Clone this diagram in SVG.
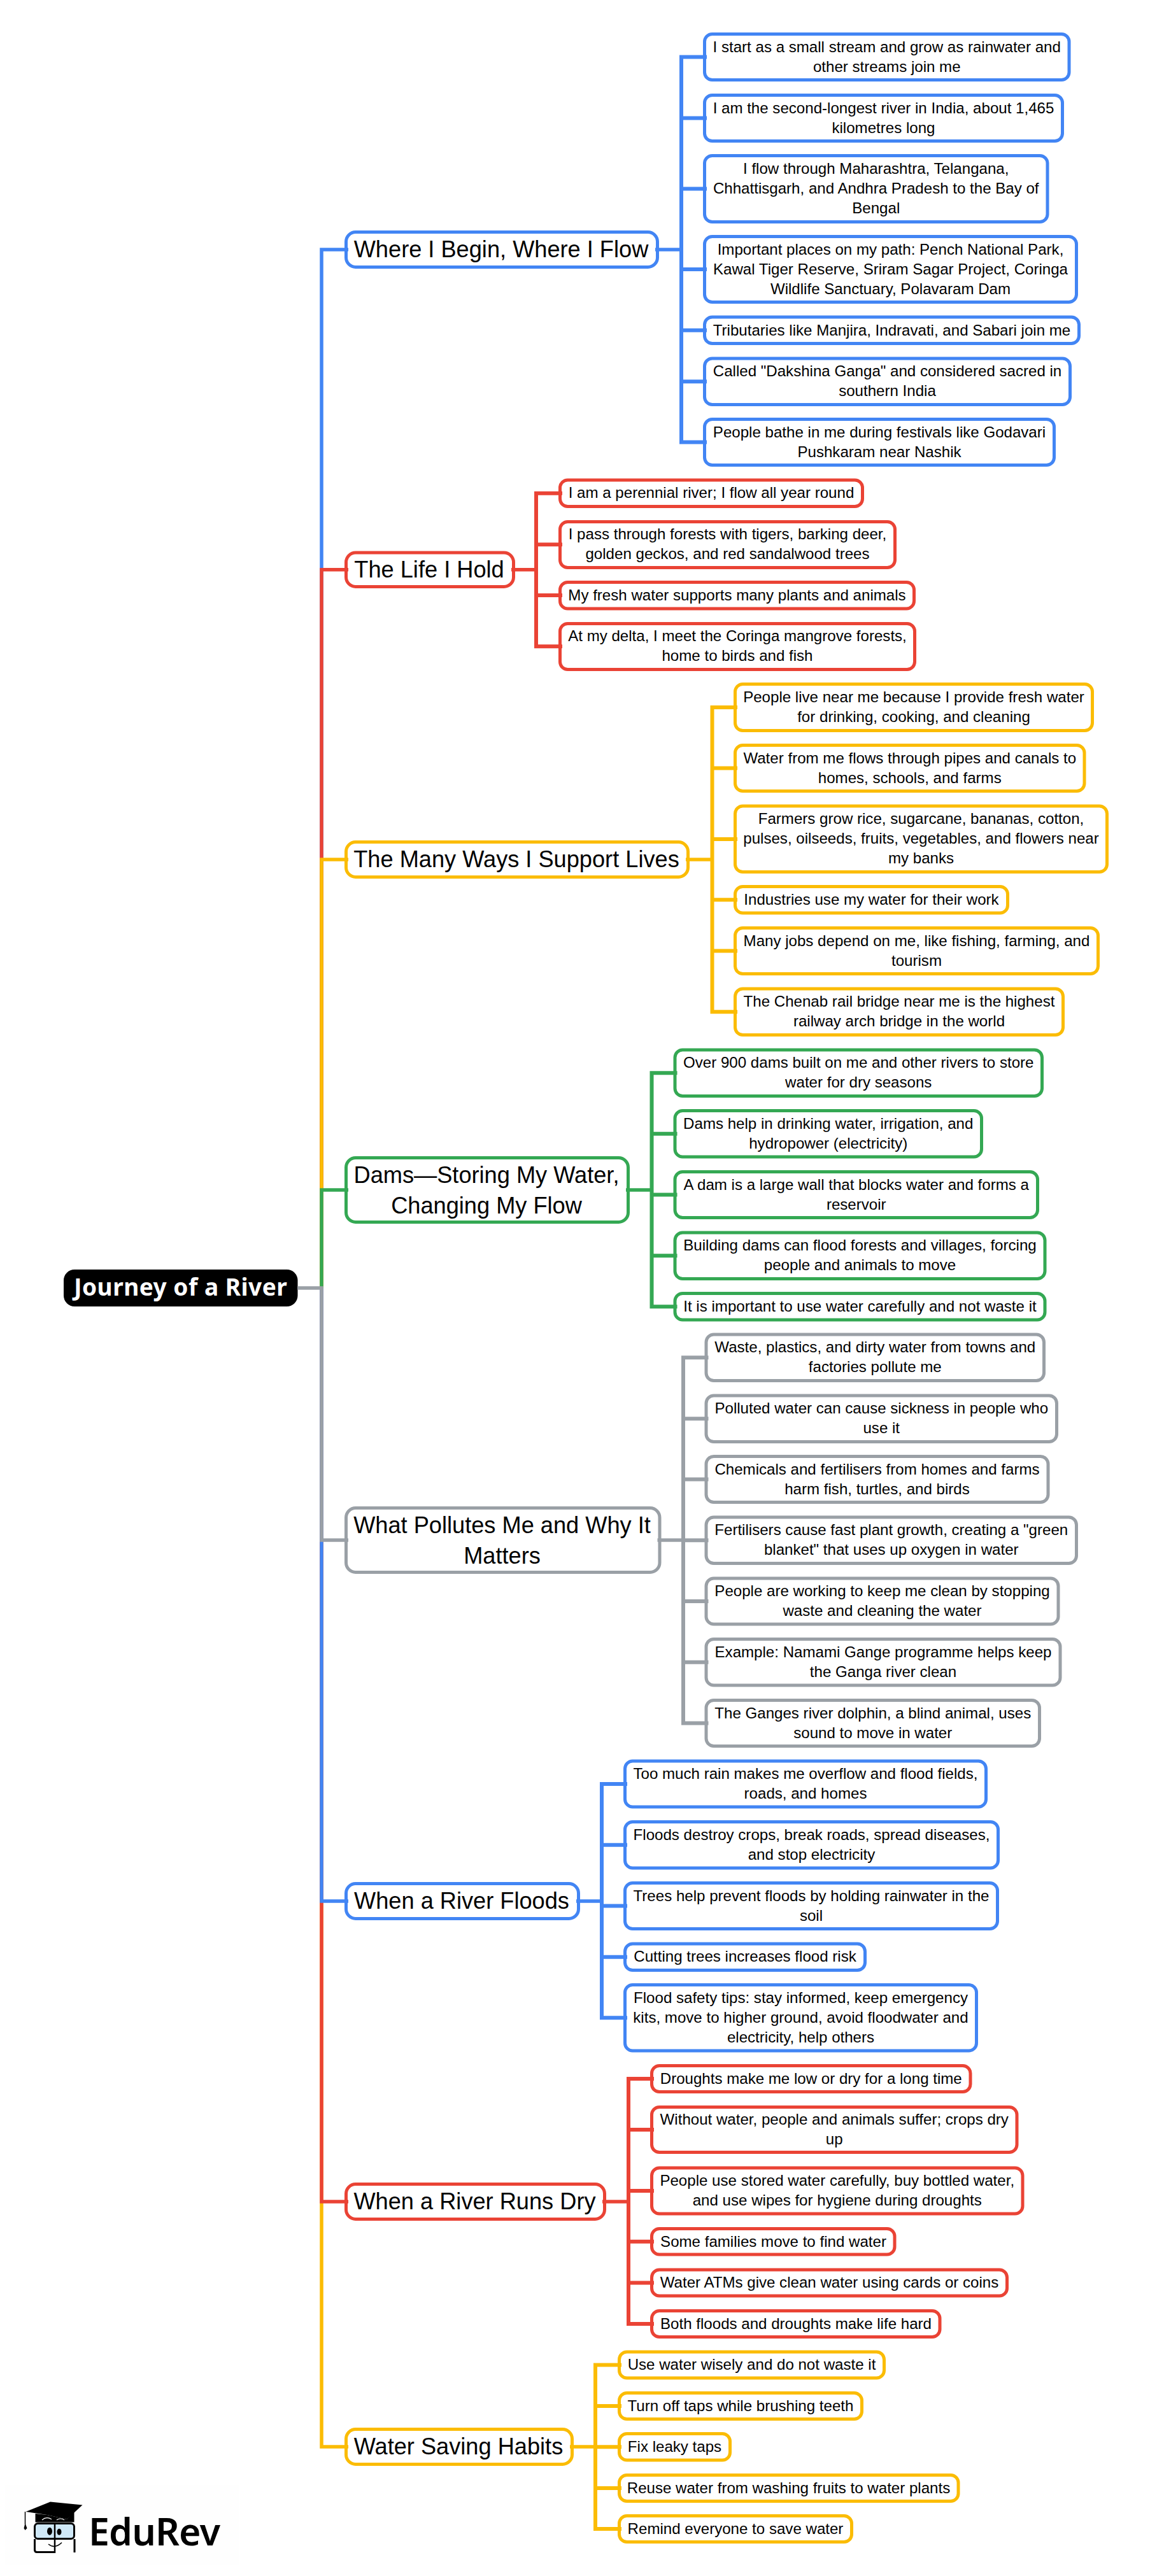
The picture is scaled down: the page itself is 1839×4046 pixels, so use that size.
<svg xmlns="http://www.w3.org/2000/svg" width="1839" height="4046" viewBox="0 0 1839 4046">
<style>
text{font-family:"Liberation Sans",Arial,sans-serif;fill:#000;text-anchor:middle}
.n text{font-size:36.2px}
.l text{font-size:24.1px}
rect{fill:#fff;stroke-width:5}
.n rect{rx:15px;ry:15px}
.l rect{rx:12px;ry:12px}
.blue rect{stroke:#4285F4}.red rect{stroke:#EA4335}.yel rect{stroke:#FBBC04}.grn rect{stroke:#34A853}.gry rect{stroke:#9AA0A6}
#connectors path{fill:none}
.cb{stroke:#4285F4}.cr{stroke:#EA4335}.cy{stroke:#FBBC04}.cg{stroke:#34A853}.ca{stroke:#9AA0A6}
.t{stroke-width:5.5}.b{stroke-width:6}
</style>
<rect width="1839" height="4046" style="fill:#fff;stroke:none"/>

<g id="root"><rect x="100" y="1994" width="367.5" height="58" rx="17" ry="17" style="fill:#000;stroke:none"/><text x="283.75" y="2035" style="font-family:'Noto Sans','Liberation Sans',sans-serif;font-size:37px;font-weight:700;letter-spacing:.5px;fill:#fff">Journey of a River</text></g>

<g id="n1" class="n blue"><rect x="543.5" y="364.5" width="489" height="55"/><text x="787" y="404">Where I Begin, Where I Flow</text></g>
<g id="n2" class="n red"><rect x="543.5" y="868" width="263" height="53.5"/><text x="674" y="906.5">The Life I Hold</text></g>
<g id="n3" class="n yel"><rect x="543.5" y="1322.5" width="537" height="55"/><text x="811" y="1362">The Many Ways I Support Lives</text></g>
<g id="n4" class="n grn"><rect x="543.5" y="1818.5" width="443" height="101"/><text x="764" y="1858">Dams—Storing My Water,</text><text x="764" y="1905.5">Changing My Flow</text></g>
<g id="n5" class="n gry"><rect x="543.5" y="2368.5" width="492.5" height="101"/><text x="788.5" y="2408">What Pollutes Me and Why It</text><text x="788.5" y="2455.5">Matters</text></g>
<g id="n6" class="n blue"><rect x="543.5" y="2958.5" width="365" height="55"/><text x="725" y="2998">When a River Floods</text></g>
<g id="n7" class="n red"><rect x="543.5" y="3430.5" width="406" height="55"/><text x="745.5" y="3470">When a River Runs Dry</text></g>
<g id="n8" class="n yel"><rect x="543.5" y="3815.5" width="355" height="55"/><text x="720" y="3855">Water Saving Habits</text></g>

<g id="n1-leaves" class="l blue">
<g id="n1a"><rect x="1106.5" y="53.5" width="572.5" height="72"/><text x="1392.75" y="81.5">I start as a small stream and grow as rainwater and</text><text x="1392.75" y="112.5">other streams join me</text></g>
<g id="n1b"><rect x="1106.5" y="149.5" width="562" height="72"/><text x="1387.5" y="177.5">I am the second-longest river in India, about 1,465</text><text x="1387.5" y="208.5">kilometres long</text></g>
<g id="n1c"><rect x="1106.5" y="244.5" width="538.5" height="104"/><text x="1375.75" y="273">I flow through Maharashtra, Telangana,</text><text x="1375.75" y="304">Chhattisgarh, and Andhra Pradesh to the Bay of</text><text x="1375.75" y="335">Bengal</text></g>
<g id="n1d"><rect x="1106.5" y="371.5" width="584" height="103"/><text x="1398.5" y="399.5">Important places on my path: Pench National Park,</text><text x="1398.5" y="430.5">Kawal Tiger Reserve, Sriram Sagar Project, Coringa</text><text x="1398.5" y="461.5">Wildlife Sanctuary, Polavaram Dam</text></g>
<g id="n1e"><rect x="1106.5" y="498" width="588" height="41.5"/><text x="1400.5" y="526.5">Tributaries like Manjira, Indravati, and Sabari join me</text></g>
<g id="n1f"><rect x="1106.5" y="563" width="574" height="72.5"/><text x="1393.5" y="591.25">Called "Dakshina Ganga" and considered sacred in</text><text x="1393.5" y="622.25">southern India</text></g>
<g id="n1g"><rect x="1106.5" y="658.5" width="549" height="72"/><text x="1381" y="686.5">People bathe in me during festivals like Godavari</text><text x="1381" y="717.5">Pushkaram near Nashik</text></g>
</g>

<g id="n2-leaves" class="l red">
<g id="n2a"><rect x="879.5" y="754" width="475" height="41.5"/><text x="1117" y="782.25">I am a perennial river; I flow all year round</text></g>
<g id="n2b"><rect x="879.5" y="819.5" width="526" height="72"/><text x="1142.5" y="847.25">I pass through forests with tigers, barking deer,</text><text x="1142.5" y="878.25">golden geckos, and red sandalwood trees</text></g>
<g id="n2c"><rect x="879.5" y="914.5" width="556" height="41.5"/><text x="1157.5" y="942.75">My fresh water supports many plants and animals</text></g>
<g id="n2d"><rect x="879.5" y="979.5" width="557" height="72"/><text x="1158" y="1007.25">At my delta, I meet the Coringa mangrove forests,</text><text x="1158" y="1038.25">home to birds and fish</text></g>
</g>

<g id="n3-leaves" class="l yel">
<g id="n3a"><rect x="1154.5" y="1074.5" width="561" height="73"/><text x="1435" y="1103">People live near me because I provide fresh water</text><text x="1435" y="1134">for drinking, cooking, and cleaning</text></g>
<g id="n3b"><rect x="1154.5" y="1170.5" width="548.5" height="72"/><text x="1428.75" y="1198.5">Water from me flows through pipes and canals to</text><text x="1428.75" y="1229.5">homes, schools, and farms</text></g>
<g id="n3c"><rect x="1154.5" y="1266" width="584" height="103.5"/><text x="1446.5" y="1294.25">Farmers grow rice, sugarcane, bananas, cotton,</text><text x="1446.5" y="1325.25">pulses, oilseeds, fruits, vegetables, and flowers near</text><text x="1446.5" y="1356.25">my banks</text></g>
<g id="n3d"><rect x="1154.5" y="1392.5" width="428" height="41.5"/><text x="1368.5" y="1420.75">Industries use my water for their work</text></g>
<g id="n3e"><rect x="1154.5" y="1457.5" width="570" height="72"/><text x="1439.5" y="1485.5">Many jobs depend on me, like fishing, farming, and</text><text x="1439.5" y="1516.5">tourism</text></g>
<g id="n3f"><rect x="1154.5" y="1553" width="515" height="72.5"/><text x="1412" y="1581.25">The Chenab rail bridge near me is the highest</text><text x="1412" y="1612.25">railway arch bridge in the world</text></g>
</g>

<g id="n4-leaves" class="l grn">
<g id="n4a"><rect x="1060" y="1649" width="576.5" height="72.5"/><text x="1348.25" y="1677.25">Over 900 dams built on me and other rivers to store</text><text x="1348.25" y="1708.25">water for dry seasons</text></g>
<g id="n4b"><rect x="1060" y="1744.5" width="481.5" height="72.5"/><text x="1300.75" y="1772.75">Dams help in drinking water, irrigation, and</text><text x="1300.75" y="1803.75">hydropower (electricity)</text></g>
<g id="n4c"><rect x="1060" y="1840.5" width="569.5" height="72"/><text x="1344.75" y="1868.5">A dam is a large wall that blocks water and forms a</text><text x="1344.75" y="1899.5">reservoir</text></g>
<g id="n4d"><rect x="1060" y="1936" width="581" height="72.5"/><text x="1350.5" y="1964.25">Building dams can flood forests and villages, forcing</text><text x="1350.5" y="1995.25">people and animals to move</text></g>
<g id="n4e"><rect x="1060" y="2031.5" width="581" height="41.5"/><text x="1350.5" y="2059.75">It is important to use water carefully and not waste it</text></g>
</g>

<g id="n5-leaves" class="l gry">
<g id="n5a"><rect x="1109" y="2096" width="530.5" height="72.5"/><text x="1374.25" y="2124.25">Waste, plastics, and dirty water from towns and</text><text x="1374.25" y="2155.25">factories pollute me</text></g>
<g id="n5b"><rect x="1109" y="2192" width="550.5" height="72.5"/><text x="1384.25" y="2220.25">Polluted water can cause sickness in people who</text><text x="1384.25" y="2251.25">use it</text></g>
<g id="n5c"><rect x="1109" y="2287.5" width="537" height="72"/><text x="1377.5" y="2315.5">Chemicals and fertilisers from homes and farms</text><text x="1377.5" y="2346.5">harm fish, turtles, and birds</text></g>
<g id="n5d"><rect x="1109" y="2383" width="581.5" height="72.5"/><text x="1399.75" y="2411.25">Fertilisers cause fast plant growth, creating a "green</text><text x="1399.75" y="2442.25">blanket" that uses up oxygen in water</text></g>
<g id="n5e"><rect x="1109" y="2479" width="553" height="72"/><text x="1385.5" y="2507">People are working to keep me clean by stopping</text><text x="1385.5" y="2538">waste and cleaning the water</text></g>
<g id="n5f"><rect x="1109" y="2574.5" width="556" height="72.5"/><text x="1387" y="2602.75">Example: Namami Gange programme helps keep</text><text x="1387" y="2633.75">the Ganga river clean</text></g>
<g id="n5g"><rect x="1109" y="2670.5" width="523.5" height="72"/><text x="1370.75" y="2698.5">The Ganges river dolphin, a blind animal, uses</text><text x="1370.75" y="2729.5">sound to move in water</text></g>
</g>

<g id="n6-leaves" class="l blue">
<g id="n6a"><rect x="981.5" y="2766" width="567" height="72"/><text x="1265" y="2794">Too much rain makes me overflow and flood fields,</text><text x="1265" y="2825">roads, and homes</text></g>
<g id="n6b"><rect x="981.5" y="2861.5" width="586" height="72.5"/><text x="1274.5" y="2889.75">Floods destroy crops, break roads, spread diseases,</text><text x="1274.5" y="2920.75">and stop electricity</text></g>
<g id="n6c"><rect x="981.5" y="2957.5" width="585" height="72"/><text x="1274" y="2985.5">Trees help prevent floods by holding rainwater in the</text><text x="1274" y="3016.5">soil</text></g>
<g id="n6d"><rect x="981.5" y="3053" width="377" height="41.5"/><text x="1170" y="3081.25">Cutting trees increases flood risk</text></g>
<g id="n6e"><rect x="981.5" y="3117.5" width="552" height="103.5"/><text x="1257.5" y="3146">Flood safety tips: stay informed, keep emergency</text><text x="1257.5" y="3177">kits, move to higher ground, avoid floodwater and</text><text x="1257.5" y="3208">electricity, help others</text></g>
</g>

<g id="n7-leaves" class="l red">
<g id="n7a"><rect x="1023.5" y="3244.5" width="500.5" height="41"/><text x="1273.75" y="3272.5">Droughts make me low or dry for a long time</text></g>
<g id="n7b"><rect x="1023.5" y="3309.5" width="573.5" height="71"/><text x="1310.25" y="3337">Without water, people and animals suffer; crops dry</text><text x="1310.25" y="3368">up</text></g>
<g id="n7c"><rect x="1023.5" y="3405" width="582.5" height="72"/><text x="1314.75" y="3433">People use stored water carefully, buy bottled water,</text><text x="1314.75" y="3464">and use wipes for hygiene during droughts</text></g>
<g id="n7d"><rect x="1023.5" y="3500.5" width="381.5" height="40.5"/><text x="1214.5" y="3528.5">Some families move to find water</text></g>
<g id="n7e"><rect x="1023.5" y="3565" width="558" height="41"/><text x="1302.5" y="3593">Water ATMs give clean water using cards or coins</text></g>
<g id="n7f"><rect x="1023.5" y="3629.5" width="452.5" height="41"/><text x="1250" y="3657.5">Both floods and droughts make life hard</text></g>
</g>

<g id="n8-leaves" class="l yel">
<g id="n8a"><rect x="972.5" y="3694" width="416" height="41"/><text x="1180.5" y="3722">Use water wisely and do not waste it</text></g>
<g id="n8b"><rect x="972.5" y="3758.5" width="381" height="41"/><text x="1163" y="3786.5">Turn off taps while brushing teeth</text></g>
<g id="n8c"><rect x="972.5" y="3822.5" width="174" height="41.5"/><text x="1059.5" y="3851">Fix leaky taps</text></g>
<g id="n8d"><rect x="972.5" y="3887.5" width="532.5" height="41"/><text x="1238.5" y="3915.5">Reuse water from washing fruits to water plants</text></g>
<g id="n8e"><rect x="972.5" y="3951.5" width="365" height="41"/><text x="1155" y="3979.5">Remind everyone to save water</text></g>
</g>

<g id="connectors">
<path class="cb t" d="M505 2023V392H547"/>
<path class="cr t" d="M505 2023V894.75H547"/>
<path class="cy t" d="M505 2023V1350H547"/>
<path class="cg t" d="M505 2023V1869H547"/>
<path class="cy t" d="M505 2023V3843H547"/>
<path class="cr t" d="M505 2023V3458H547"/>
<path class="cb t" d="M505 2023V2986H547"/>
<path class="ca t" d="M467 2023H505V2419H547"/>

<path class="cb t" d="M1029 392H1070"/>
<path class="cb b" d="M1070 392V89.5H1110M1070 185.5H1110M1070 296.5H1110M1070 423H1110M1070 392V694.5H1110M1070 518.75H1110M1070 599.25H1110"/>

<path class="cr t" d="M803 894.75H842"/>
<path class="cr b" d="M842 894.75V774.75H883M842 855.25H883M842 894.75V1015.25H883M842 935H883"/>

<path class="cy t" d="M1077 1350H1118.5"/>
<path class="cy b" d="M1118.5 1350V1111H1158M1118.5 1206.5H1158M1118.5 1318H1158M1118.5 1350V1589.25H1158M1118.5 1413.25H1158M1118.5 1493.5H1158"/>

<path class="cg t" d="M983 1869H1023.5"/>
<path class="cg b" d="M1023.5 1869V1685.25H1063.5M1023.5 1780.75H1063.5M1023.5 1876.5H1063.5M1023.5 1869V2052.25H1063.5M1023.5 1972.25H1063.5"/>

<path class="ca t" d="M1032.5 2419H1073"/>
<path class="ca b" d="M1073 2419V2132.25H1112.5M1073 2228.25H1112.5M1073 2323.5H1112.5M1073 2419.25H1112.5M1073 2419V2706.5H1112.5M1073 2515H1112.5M1073 2610.75H1112.5"/>

<path class="cb t" d="M905 2986H945"/>
<path class="cb b" d="M945 2986V2802H985M945 2897.75H985M945 2993.5H985M945 2986V3169.25H985M945 3073.75H985"/>

<path class="cr t" d="M946 3458H987"/>
<path class="cr b" d="M987 3458V3265H1027M987 3345H1027M987 3441H1027M987 3520.75H1027M987 3585.5H1027M987 3458V3650H1027"/>

<path class="cy t" d="M895 3843H935"/>
<path class="cy b" d="M935 3843V3714.5H976M935 3779H976M935 3843.25H976M935 3843V3972H976M935 3908H976"/>
</g>

<g id="logo">
<rect x="8" y="3903" width="367" height="125" style="fill:#fefefe;stroke:none"/>
<path d="M40.5 3945L79 3929.5L129.5 3934.5L105 3957L74 3950Z" fill="#000"/>
<path d="M55.5 3948V3961.5H116.5V3944L105 3957L74 3950Z" fill="#000"/>
<path d="M66 3958Q73 3952 81 3957M89 3958Q95 3954 101 3958" fill="none" stroke="#fff" stroke-width="1.2"/>
<path d="M39.5 3945V3965" stroke="#000" stroke-width="1.5" fill="none"/>
<path d="M39.5 3963L42.5 3971L39.5 3974L37.5 3971Z" fill="#000"/>
<rect x="54.5" y="3963.5" width="62" height="24" rx="5" ry="5" style="fill:#cfe8f7;stroke:#000;stroke-width:3"/>
<path d="M117 3988V4009M54.5 3988V4005Q54.5 4008.5 58 4008.5H86" fill="none" stroke="#000" stroke-width="3"/>
<path d="M86 3962V4010" stroke="#000" stroke-width="2.5" fill="none"/>
<ellipse cx="78" cy="3975.7" rx="4" ry="6" fill="#000"/>
<ellipse cx="93" cy="3976.7" rx="3.5" ry="5" fill="#000"/>
<path d="M76 3996Q86 4004 97 3993.5" fill="none" stroke="#000" stroke-width="1.6"/>
<text x="242" y="3998" style="font-family:'Noto Sans','Liberation Sans',sans-serif;font-size:59px;font-weight:600;letter-spacing:-.8px">EduRev</text>
</g>
</svg>
